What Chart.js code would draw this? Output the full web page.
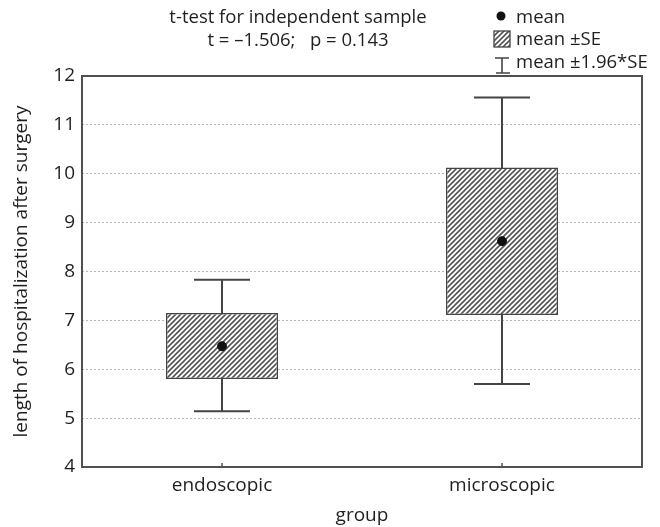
<!DOCTYPE html>
<html>
<head>
<meta charset="utf-8">
<script src="https://cdn.jsdelivr.net/npm/chart.js@4"></script>
<style>
  body { margin: 0; background: #fff; }
  canvas { display: block; }
</style>
</head>
<body>
<canvas id="chart" width="660" height="527"></canvas>
<script>
// dados
const groups = ['endoscopic', 'microscopic'];
const means = [6.47, 8.62];
const seLow = [5.80, 7.11];     // mean - SE
const seHigh = [7.15, 10.13];   // mean + SE
const ciLow = [5.14, 5.70];     // mean - 1.96*SE
const ciHigh = [7.83, 11.56];   // mean + 1.96*SE
const yMin = 4;
const yMax = 12;

const titleLines = ['t-test for independent sample', 't = \u20131.506;   p = 0.143'];
const legendLabels = ['mean', 'mean \u00b1SE', 'mean \u00b11.96*SE'];

const FONT = '"Open Sans", "Noto Sans", sans-serif';
const ink = '#1f1f1f';
const lineColor = '#444';

// padrão hachurado das caixas
function makeHatch() {
  const c = document.createElement('canvas');
  c.width = 5; c.height = 5;
  const g = c.getContext('2d');
  g.fillStyle = '#fff';
  g.fillRect(0, 0, 5, 5);
  g.strokeStyle = '#555';
  g.lineWidth = 1.6;
  g.beginPath();
  g.moveTo(0, 5); g.lineTo(5, 0);
  g.moveTo(-1, 1); g.lineTo(1, -1);
  g.moveTo(4, 6); g.lineTo(6, 4);
  g.stroke();
  return g.createPattern(c, 'repeat');
}
const hatch = makeHatch();

// bigodes (±1.96*SE), desenhados antes das caixas
const whiskerPlugin = {
  id: 'whiskers',
  beforeDatasetsDraw(chart) {
    const { ctx, scales: { x, y } } = chart;
    ctx.save();
    ctx.strokeStyle = lineColor;
    ctx.lineWidth = 2;
    groups.forEach((g, i) => {
      const cx = x.getPixelForValue(i);
      const half = 28;
      const top = y.getPixelForValue(ciHigh[i]);
      const bot = y.getPixelForValue(ciLow[i]);
      ctx.beginPath();
      ctx.moveTo(cx, top); ctx.lineTo(cx, bot);
      ctx.moveTo(cx - half, top); ctx.lineTo(cx + half, top);
      ctx.moveTo(cx - half, bot); ctx.lineTo(cx + half, bot);
      ctx.stroke();
    });
    ctx.restore();
  }
};

// moldura, título e legenda
const framePlugin = {
  id: 'frame',
  afterDraw(chart) {
    const { ctx, chartArea: a, scales: { x } } = chart;
    ctx.save();
    ctx.strokeStyle = '#505050';
    ctx.lineWidth = 2;
    ctx.strokeRect(a.left, a.top, a.right - a.left, a.bottom - a.top);
    ctx.lineWidth = 1.5;
    groups.forEach((g, i) => {
      const px = x.getPixelForValue(i);
      ctx.beginPath();
      ctx.moveTo(px, a.bottom); ctx.lineTo(px, a.bottom - 4);
      ctx.stroke();
    });

    ctx.fillStyle = ink;
    ctx.font = '18.5px ' + FONT;
    ctx.textAlign = 'center';
    ctx.textBaseline = 'middle';
    ctx.fillText(titleLines[0], 298, 18);
    ctx.fillText(titleLines[1], 298, 41);

    // legenda
    ctx.textAlign = 'left';
    ctx.fillStyle = '#111';
    ctx.beginPath();
    ctx.arc(501, 16, 4.5, 0, Math.PI * 2);
    ctx.fill();
    ctx.fillStyle = hatch;
    ctx.fillRect(494, 31, 16, 16);
    ctx.strokeStyle = lineColor;
    ctx.lineWidth = 1.3;
    ctx.strokeRect(494, 31, 16, 16);
    ctx.lineWidth = 1.6;
    ctx.beginPath();
    ctx.moveTo(495, 58); ctx.lineTo(509, 58);
    ctx.moveTo(502, 58); ctx.lineTo(502, 73);
    ctx.moveTo(496, 73); ctx.lineTo(510, 73);
    ctx.stroke();
    ctx.fillStyle = ink;
    ctx.fillText(legendLabels[0], 516, 18);
    ctx.fillText(legendLabels[1], 516, 40);
    ctx.fillText(legendLabels[2], 516, 63);
    ctx.restore();
  }
};

new Chart(document.getElementById('chart'), {
  type: 'bar',
  data: {
    labels: groups,
    datasets: [
      {
        type: 'line',
        label: 'mean',
        data: means,
        showLine: false,
        pointStyle: 'circle',
        pointRadius: 4.5,
        pointBackgroundColor: '#111',
        pointBorderColor: '#111',
        order: 0
      },
      {
        label: 'mean ±SE',
        data: groups.map((g, i) => [seLow[i], seHigh[i]]),
        backgroundColor: hatch,
        borderColor: lineColor,
        borderWidth: 1.5,
        borderSkipped: false,
        barPercentage: 0.4,
        categoryPercentage: 1,
        order: 1
      }
    ]
  },
  options: {
    responsive: false,
    animation: false,
    layout: { padding: { top: 76, right: 18, left: 0, bottom: 0 } },
    plugins: {
      legend: { display: false },
      title: { display: false },
      tooltip: { enabled: false }
    },
    scales: {
      x: {
        grid: { display: false, drawTicks: false },
        border: { display: false },
        ticks: { color: ink, font: { family: FONT, size: 19 }, padding: 7 },
        title: { display: true, text: 'group', color: ink, font: { family: FONT, size: 19 }, padding: { top: 0, bottom: 0 } },
        afterFit(scale) { scale.height = 60; }
      },
      y: {
        min: yMin,
        max: yMax,
        ticks: { stepSize: 1, color: ink, font: { family: FONT, size: 19 }, padding: 7 },
        grid: {
          drawTicks: false,
          color: ctx => (ctx.tick && (ctx.tick.value === yMin || ctx.tick.value === yMax)) ? 'rgba(0,0,0,0)' : '#b5b5b5',
          lineWidth: 1
        },
        border: { display: false, dash: [2, 2] },
        title: { display: true, text: 'length of hospitalization after surgery', color: ink, font: { family: FONT, size: 19 }, padding: { top: 10, bottom: 0 } },
        afterFit(scale) { scale.width = 82; }
      }
    }
  },
  plugins: [whiskerPlugin, framePlugin]
});
</script>
</body>
</html>
